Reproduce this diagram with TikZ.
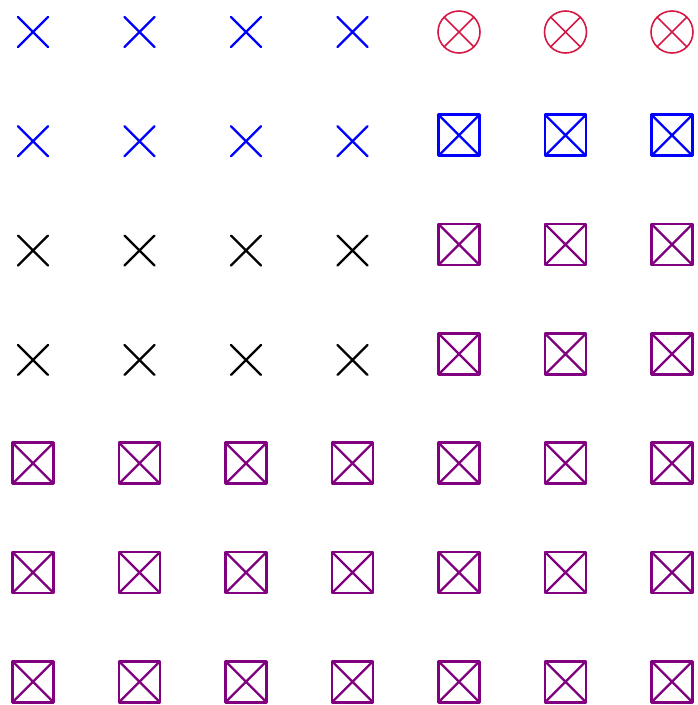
\documentclass[tikz,border=0pt]{standalone}
\usepackage{tikz}

\definecolor{crimson}{RGB}{214,24,68}
\tikzset{
    xmark/.style={line width=2.3pt, line cap=round},
    boxmark/.style={line width=2.7pt, line join=round},
    diagmark/.style={line width=2.3pt},
    circmark/.style={crimson, line width=1.6pt},
}

\begin{document}
\begin{tikzpicture}[x=1pt, y=-1pt]
    \useasboundingbox (0,0) rectangle (698,705);
    % plain crosses, left half of the top four rows
    \foreach \i in {0,...,3} {
        \foreach \j/\c in {0/blue, 1/blue, 2/black, 3/black} {
            \pgfmathsetmacro{\cx}{33+106.5*\i}
            \pgfmathsetmacro{\cy}{32+109.3*\j}
            \draw[xmark, \c] (\cx-15, \cy-15) -- (\cx+15, \cy+15) (\cx-15, \cy+15) -- (\cx+15, \cy-15);
        }
    }
    % crossed circles, top right
    \foreach \i in {4,5,6} {
        \pgfmathsetmacro{\cx}{33+106.5*\i}
        \draw[circmark] (\cx, 32) circle (21pt);
        \draw[circmark] (\cx-14.8, 17.2) -- (\cx+14.8, 46.8) (\cx-14.8, 46.8) -- (\cx+14.8, 17.2);
    }
    % crossed boxes
    \foreach \i in {0,...,6} {
        \foreach \j in {1,...,6} {
            \pgfmathsetmacro{\cx}{33+106.5*\i}
            \pgfmathsetmacro{\cy}{26+109.3*\j}
            \pgfmathtruncatemacro{\show}{(\i>3 || \j>3) ? 1 : 0}
            \ifnum\show=1
                \ifnum\j=1 \def\bc{blue}\else\def\bc{violet}\fi
                \draw[boxmark, \bc] (\cx-20.5, \cy-20.5) rectangle (\cx+20.5, \cy+20.5);
                \draw[diagmark, \bc] (\cx-20.5, \cy-20.5) -- (\cx+20.5, \cy+20.5) (\cx-20.5, \cy+20.5) -- (\cx+20.5, \cy-20.5);
            \fi
        }
    }
\end{tikzpicture}
\end{document}
